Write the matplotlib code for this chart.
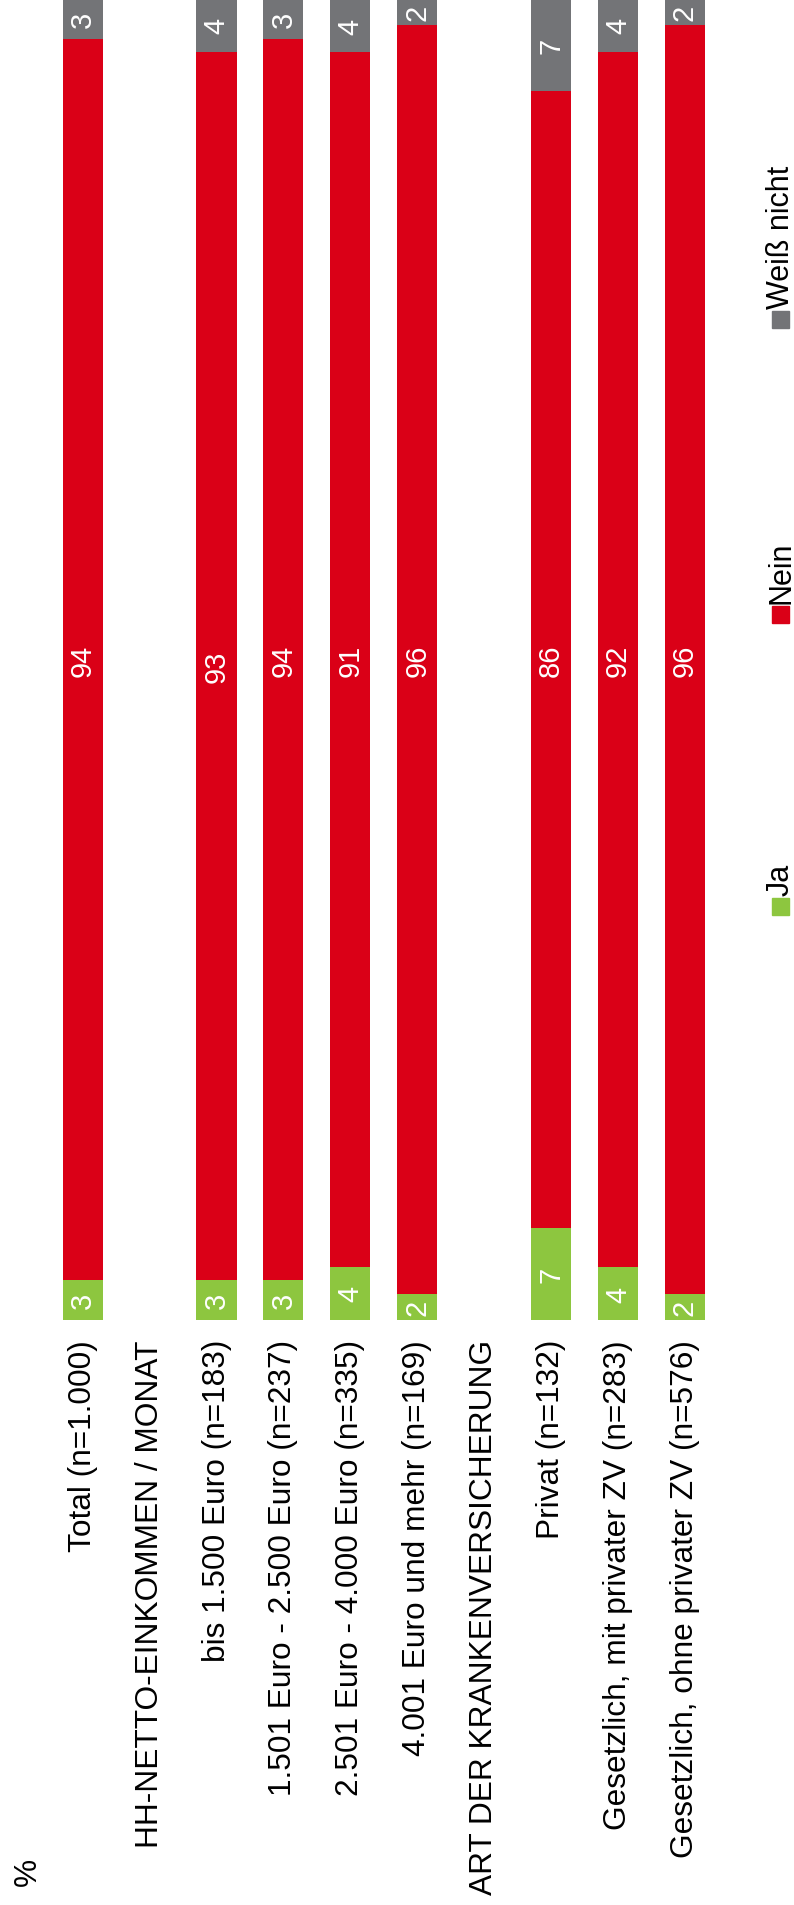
import numpy as np
import matplotlib
matplotlib.use("Agg")
import matplotlib.pyplot as plt
from matplotlib.patches import Rectangle

plt.rcParams['font.family'] = ['Liberation Sans', 'DejaVu Sans']

# rows of the (rotated) chart, in order; headers have no bar
rows = ["Total (n=1.000)",
        "HH-NETTO-EINKOMMEN / MONAT",
        "bis 1.500 Euro (n=183)",
        "1.501 Euro - 2.500 Euro (n=237)",
        "2.501 Euro - 4.000 Euro (n=335)",
        "4.001 Euro und mehr (n=169)",
        "ART DER KRANKENVERSICHERUNG",
        "Privat (n=132)",
        "Gesetzlich, mit privater ZV (n=283)",
        "Gesetzlich, ohne privater ZV (n=576)"]
is_header = [False, True, False, False, False, False, True, False, False, False]

ja = [3, 3, 3, 4, 2, 7, 4, 2]
nein = [94, 93, 94, 91, 96, 86, 92, 96]
weiss = [3, 4, 3, 4, 2, 7, 4, 2]

series_names = ["Ja", "Nein", "Weiß nicht"]
colors = ["#8DC63F", "#DA0017", "#737477"]

W, H = 794, 1906
fig = plt.figure(figsize=(W / 100, H / 100), dpi=100)

# axes: bars run from y=1321px (0 %) to the top edge (100 %)
ax = fig.add_axes([0, (H - 1321) / H, 1, 1321 / H])

slots = np.arange(len(rows))
bar_slots = slots[~np.array(is_header)]

vals = np.array([ja, nein, weiss], dtype=float)
shares = vals / vals.sum(axis=0) * 100  # rows add up to 100 in the picture

bottom = np.zeros(len(bar_slots))
for name, share, raw, col in zip(series_names, shares, vals, colors):
    ax.bar(bar_slots, share, bottom=bottom, width=0.6, color=col,
           label=name, linewidth=0)
    for b, s, v, x in zip(bottom, share, raw, bar_slots):
        ax.text(x, b + s / 2, f"{int(v)}", rotation=90, ha="center",
                va="center", color="white", fontsize=21)
    bottom += share

ax.set_ylim(0, 100)
ax.set_xlim(-82.7 / 66.9, (W - 82.7) / 66.9)
ax.set_xticks(slots)
ax.set_xticklabels(rows, rotation=90, ha="center", va="top", fontsize=22.8)
ax.tick_params(axis="x", length=0, pad=13.7)
ax.set_yticks([])
for sp in ax.spines.values():
    sp.set_visible(False)

fig.text(28 / W, 1 - 1872 / H, "%", rotation=90, ha="center", va="center",
         fontsize=22.8)

# legend (rotated), drawn by hand
sq_top = [899, 607, 312]
for name, col, top in zip(series_names, colors, sq_top):
    fig.patches.append(Rectangle((772 / W, 1 - (top + 17) / H), 17 / W, 17 / H,
                                 transform=fig.transFigure, color=col))
    fig.text(781 / W, 1 - (top - 3) / H, name, rotation=90, ha="center",
             va="bottom", fontsize=22)

fig.savefig("out.png", dpi=100)
